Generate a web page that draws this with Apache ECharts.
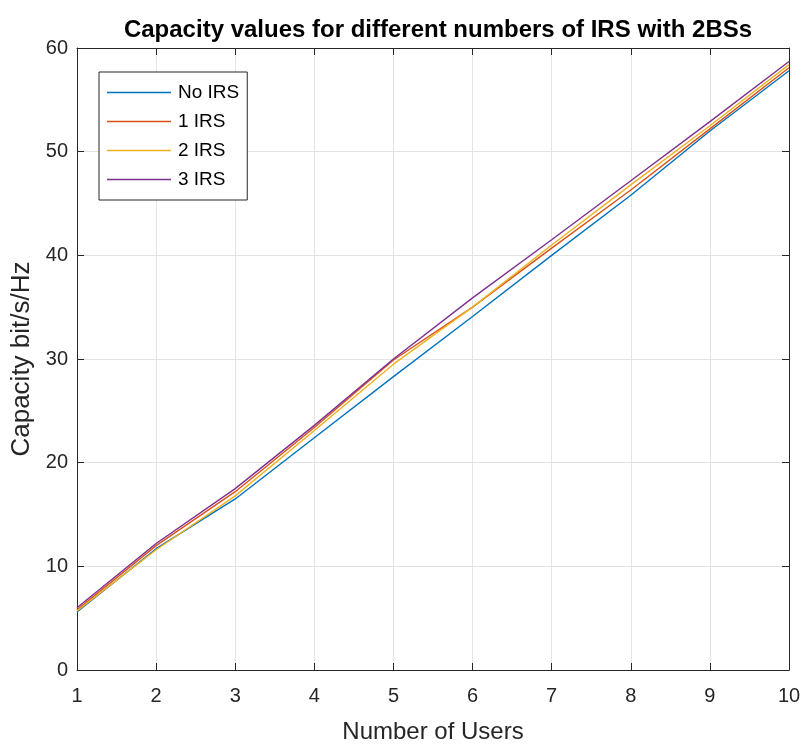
<!DOCTYPE html>
<html>
<head>
<meta charset="utf-8">
<script src="https://cdn.jsdelivr.net/npm/echarts@6/dist/echarts.min.js"></script>
<style>
  html, body { margin: 0; padding: 0; background: #fff; }
  #chart { width: 805px; height: 749px; }
</style>
</head>
<body>
<div id="chart"></div>
<script>
// Number of users on the x axis
const users = [1, 2, 3, 4, 5, 6, 7, 8, 9, 10];

// Capacity (bit/s/Hz) for each IRS configuration
const noIRS  = [5.6, 11.7, 16.5, 22.4, 28.3, 34.1, 40.0, 45.8, 52.0, 57.8];
const oneIRS = [5.8, 12.0, 17.2, 23.4, 29.9, 35.0, 40.7, 46.3, 52.2, 58.1];
const twoIRS = [5.7, 11.6, 16.8, 23.1, 29.5, 35.0, 41.0, 46.8, 52.5, 58.4];
const threeIRS = [6.0, 12.2, 17.5, 23.6, 30.0, 35.9, 41.5, 47.2, 52.9, 58.7];

const seriesNames = ['No IRS', '1 IRS', '2 IRS', '3 IRS'];
const seriesData = [noIRS, oneIRS, twoIRS, threeIRS];
const colors = ['#0072BD', '#D95319', '#EDB120', '#7E2F8E'];

const axisColor = '#262626';
const font = 'Liberation Sans, Arial, sans-serif';

const chart = echarts.init(document.getElementById('chart'), null, { renderer: 'canvas' });

const baseX = {
  type: 'value', min: 1, max: 10, interval: 1,
  axisLine: { show: true, onZero: false, lineStyle: { color: axisColor, width: 1 } },
  axisTick: { show: true, inside: true, length: 7, lineStyle: { color: axisColor } },
  splitLine: { show: false }
};
const baseY = {
  type: 'value', min: 0, max: 60, interval: 10,
  axisLine: { show: true, onZero: false, lineStyle: { color: axisColor, width: 1 } },
  axisTick: { show: true, inside: true, length: 7, lineStyle: { color: axisColor } },
  splitLine: { show: false }
};

chart.setOption({
  animation: false,
  color: colors,
  title: {
    text: 'Capacity values for different numbers of IRS with 2BSs',
    left: 433, top: 13, textAlign: 'center',
    textStyle: { fontFamily: font, fontSize: 24, fontWeight: 'bold', color: '#000' }
  },
  grid: { left: 77, right: 16, top: 48, bottom: 75, containLabel: false },
  legend: {
    orient: 'vertical', left: 99, top: 72,
    data: seriesNames,
    icon: 'rect', itemWidth: 64, itemHeight: 1.5, itemGap: 10,
    padding: [11, 8, 11, 8],
    borderColor: axisColor, borderWidth: 1, backgroundColor: '#fff',
    textStyle: { fontFamily: font, fontSize: 19, color: '#000', padding: [0, 0, 0, 2] }
  },
  xAxis: [
    Object.assign({}, baseX, {
      position: 'bottom',
      name: 'Number of Users', nameLocation: 'middle', nameGap: 50,
      nameTextStyle: { fontFamily: font, fontSize: 24, color: axisColor },
      axisLabel: { fontFamily: font, fontSize: 20, color: axisColor, margin: 16 },
      splitLine: { show: true, lineStyle: { color: '#e3e3e3', width: 1 } }
    }),
    Object.assign({}, baseX, { position: 'top', axisLabel: { show: false } })
  ],
  yAxis: [
    Object.assign({}, baseY, {
      position: 'left',
      name: 'Capacity bit/s/Hz', nameLocation: 'middle', nameGap: 36,
      nameTextStyle: { fontFamily: font, fontSize: 26, color: axisColor },
      axisLabel: { fontFamily: font, fontSize: 20, color: axisColor, margin: 9 },
      splitLine: { show: true, lineStyle: { color: '#e3e3e3', width: 1 } }
    }),
    Object.assign({}, baseY, { position: 'right', axisLabel: { show: false } })
  ],
  series: seriesNames.map((name, i) => ({
    name: name,
    type: 'line',
    xAxisIndex: 0, yAxisIndex: 0,
    showSymbol: false, symbol: 'none',
    lineStyle: { width: 1.4, color: colors[i] },
    data: users.map((u, k) => [u, seriesData[i][k]])
  }))
});
</script>
</body>
</html>
